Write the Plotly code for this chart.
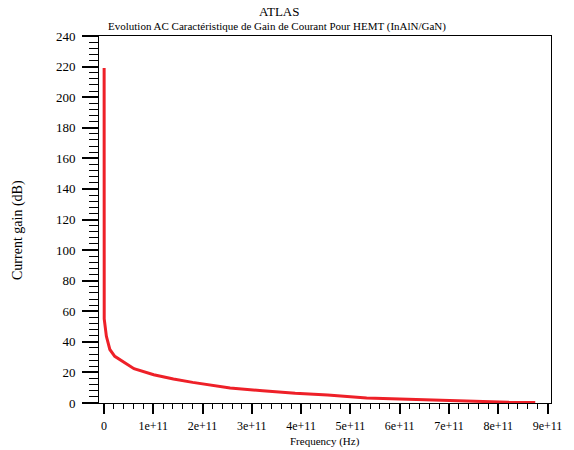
import plotly.graph_objects as go

# AC current gain of the InAlN/GaN HEMT versus frequency
freq_hz = [0.004e11, 0.006e11, 0.05e11, 0.12e11, 0.22e11, 0.42e11, 0.61e11,
           1.01e11, 1.41e11, 1.8e11, 2.2e11, 2.56e11, 3.22e11, 3.88e11,
           4.54e11, 5.33e11, 6.0e11, 6.6e11, 7.0e11, 7.5e11, 8.2e11, 8.75e11]
gain_db = [219, 55, 43.6, 35, 30.5, 26.2, 22.4, 18.5, 15.7, 13.5, 11.5, 9.8,
           8.0, 6.3, 5.2, 3.3, 2.6, 2.0, 1.5, 0.9, 0.5, 0.4]

x_tick_vals = [0, 1e11, 2e11, 3e11, 4e11, 5e11, 6e11, 7e11, 8e11, 9e11]
x_tick_text = ["0", "1e+11", "2e+11", "3e+11", "4e+11", "5e+11", "6e+11",
               "7e+11", "8e+11", "9e+11"]
y_tick_vals = list(range(0, 241, 20))

font_family = "Liberation Serif"

fig = go.Figure()
fig.add_trace(go.Scatter(
    x=freq_hz, y=gain_db, mode="lines",
    line=dict(color="#ee2028", width=3),
    showlegend=False, hoverinfo="skip",
))

fig.update_layout(
    width=574, height=450,
    margin=dict(l=99, r=12, t=36, b=47),
    paper_bgcolor="white", plot_bgcolor="white",
    font=dict(family=font_family, size=12, color="black"),
    showlegend=False,
)

fig.update_xaxes(
    range=[-0.1e11, 9.07e11],
    showgrid=False, zeroline=False,
    showline=True, linecolor="black", linewidth=1, mirror=True,
    ticks="outside", ticklen=10, tickwidth=2, tickcolor="black",
    tickvals=x_tick_vals, ticktext=x_tick_text,
    ticklabelstandoff=2,
    tickfont=dict(family=font_family, size=12, color="black"),
    minor=dict(dtick=2e10, tick0=0, ticks="outside", ticklen=5,
               tickwidth=1, tickcolor="black", showgrid=False),
)
fig.update_yaxes(
    range=[0, 240],
    showgrid=False, zeroline=False,
    showline=True, linecolor="black", linewidth=1, mirror=True,
    ticks="outside", ticklen=16, tickwidth=2, tickcolor="black",
    tickvals=y_tick_vals,
    ticklabelstandoff=4,
    tickfont=dict(family=font_family, size=13, color="black"),
    minor=dict(dtick=4, tick0=0, ticks="outside", ticklen=9,
               tickwidth=1, tickcolor="black", showgrid=False),
)

# titles
fig.add_annotation(text="ATLAS", xref="paper", yref="paper",
                   x=(283 - 99) / 463, y=1 + (36 - 12) / 367,
                   showarrow=False, xanchor="center", yanchor="middle",
                   font=dict(family=font_family, size=13, color="black"))
fig.add_annotation(text="Evolution AC Caractéristique de Gain de Courant Pour HEMT (InAlN/GaN)",
                   xref="paper", yref="paper",
                   x=(281 - 99) / 463, y=1 + (36 - 27) / 367,
                   showarrow=False, xanchor="center", yanchor="middle",
                   font=dict(family=font_family, size=11, color="black"))
fig.add_annotation(text="Frequency (Hz)", xref="paper", yref="paper",
                   x=(330 - 99) / 463, y=-(450 - 403) / 367,
                   showarrow=False, xanchor="center", yanchor="bottom",
                   font=dict(family=font_family, size=11, color="black"))
fig.add_annotation(text="Current gain (dB)", xref="paper", yref="paper",
                   x=-(99 - 16) / 463, y=(403 - 230) / 367,
                   showarrow=False, xanchor="center", yanchor="middle",
                   textangle=-90,
                   font=dict(family=font_family, size=14, color="black"))

fig.write_html("out.html")
